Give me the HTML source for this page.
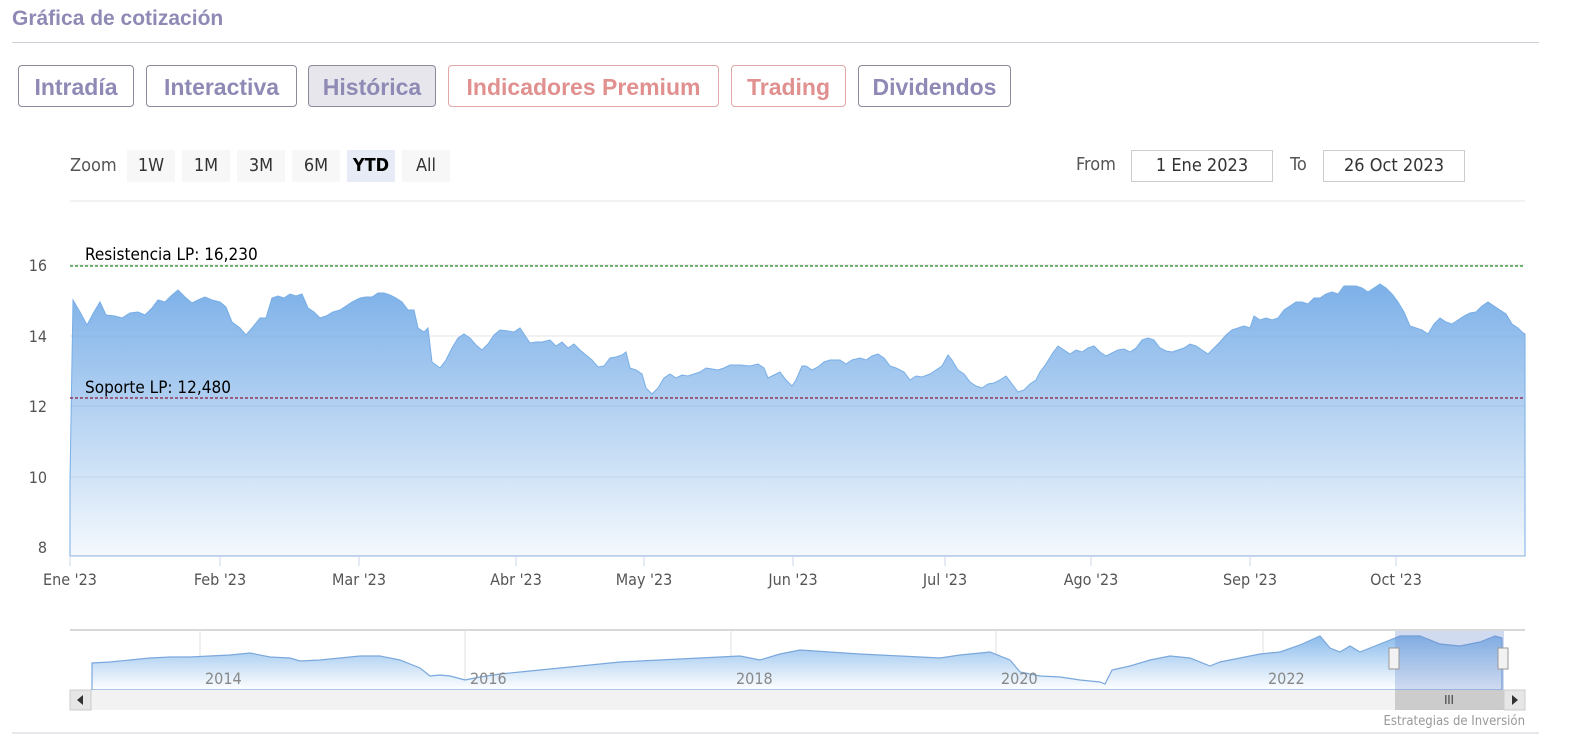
<!DOCTYPE html>
<html style="overflow:hidden"><head><meta charset="utf-8"><style>
html,body{margin:0;overflow:hidden}
body{width:1576px;height:753px;background:#fff;position:relative;font-family:"Liberation Sans",sans-serif}
.t{position:absolute;left:12px;top:7px;font-size:21px;font-weight:bold;color:#8e8ab5}
.hr{position:absolute;left:12px;width:1527px;top:42px;height:1px;background:#cfcfd8}
.b{position:absolute;top:65px;height:42px;box-sizing:border-box;border:1px solid #8a8a9a;border-radius:4px;font-size:23px;font-weight:bold;color:#8e8ab5;line-height:42px;text-align:center}
.r{color:#e0908e;border-color:#e0a8a6}
.z{position:absolute;top:150px;height:32px;line-height:32px;font-size:18px;color:#333;text-align:center;background:#f7f7f7;font-family:"DejaVu Sans Condensed","Liberation Sans",sans-serif}
.in{position:absolute;top:150px;height:32px;box-sizing:border-box;border:1px solid #ccc;font-size:18px;line-height:30px;text-align:center;color:#333;font-family:"DejaVu Sans Condensed",sans-serif}
.l{position:absolute;font-size:18px;color:#555;font-family:"DejaVu Sans Condensed",sans-serif}
</style></head><body>
<div class="t">Gráfica de cotización</div>
<div class="hr"></div>
<div class="b" style="left:18px;width:116px">Intradía</div>
<div class="b" style="left:146px;width:151px">Interactiva</div>
<div class="b" style="left:308px;width:128px;background:#e6e6ec">Histórica</div>
<div class="b r" style="left:448px;width:271px">Indicadores Premium</div>
<div class="b r" style="left:731px;width:115px">Trading</div>
<div class="b" style="left:858px;width:153px">Dividendos</div>
<div class="l" style="left:70px;top:155px">Zoom</div>
<div class="z" style="left:127px;width:48px">1W</div>
<div class="z" style="left:182px;width:48px">1M</div>
<div class="z" style="left:237px;width:48px">3M</div>
<div class="z" style="left:292px;width:48px">6M</div>
<div class="z" style="left:347px;width:48px;background:#e6ebf5;font-weight:bold;color:#000">YTD</div>
<div class="z" style="left:402px;width:48px">All</div>
<div class="l" style="left:1076px;top:154px">From</div>
<div class="in" style="left:1131px;width:142px">1 Ene 2023</div>
<div class="l" style="left:1290px;top:154px">To</div>
<div class="in" style="left:1323px;width:142px">26 Oct 2023</div>
<svg width="1576" height="753" style="position:absolute;left:0;top:0" font-family="DejaVu Sans Condensed,Liberation Sans,sans-serif">
<defs>
<linearGradient id="g" x1="0" y1="0" x2="0" y2="1"><stop offset="0" stop-color="#7cb0e8"/><stop offset="1" stop-color="#7cb0e8" stop-opacity="0.08"/></linearGradient>
<linearGradient id="g2" x1="0" y1="0" x2="0" y2="1"><stop offset="0" stop-color="#8cbcec"/><stop offset="1" stop-color="#fff"/></linearGradient>
</defs>
<line x1="70" y1="201" x2="1525" y2="201" stroke="#e6e6e6"/>
<g stroke="#e6e6e6"><line x1="70" y1="336" x2="1525" y2="336"/><line x1="70" y1="406" x2="1525" y2="406"/><line x1="70" y1="477" x2="1525" y2="477"/><line x1="70" y1="265" x2="1525" y2="265"/></g>
<g font-size="16" fill="#555" text-anchor="end"><text x="47" y="271">16</text><text x="47" y="342">14</text><text x="47" y="412">12</text><text x="47" y="483">10</text><text x="47" y="553">8</text></g>
<polygon fill="url(#g)" stroke="#78aee6" stroke-width="1" points="70,556 70,480 73,300 80,312 87,325 94,312 100,302 106,315 115,316 122,318 130,313 138,312 145,315 152,308 158,300 165,302 172,295 178,290 185,297 192,303 198,300 205,297 212,300 220,302 226,307 232,322 240,328 246,335 252,328 260,318 266,318 272,298 278,296 284,298 290,294 296,296 302,294 308,308 314,312 320,318 326,316 333,312 340,310 346,306 352,302 360,298 366,297 372,297 378,293 384,293 390,295 396,298 402,302 408,310 414,310 418,328 424,332 428,328 432,362 440,368 446,360 452,348 458,338 464,334 470,338 476,345 482,350 488,344 494,335 500,330 508,331 514,332 520,328 524,334 530,343 536,342 542,342 550,340 556,346 562,342 568,348 574,344 580,350 586,355 592,360 598,367 604,366 610,358 616,357 622,355 626,352 630,368 636,370 642,374 646,388 652,394 658,388 664,378 670,374 676,378 682,375 688,376 694,374 700,372 706,368 712,369 718,370 724,368 730,365 740,365 750,366 758,364 764,368 768,378 774,375 780,372 786,380 792,386 796,380 802,366 806,366 812,370 818,367 824,362 830,360 840,360 846,364 852,360 860,358 866,360 872,356 878,354 884,358 890,366 896,368 904,372 910,380 916,376 922,377 930,374 936,370 942,366 948,355 952,360 958,370 964,374 970,382 976,386 982,388 988,384 994,383 1000,380 1006,376 1012,384 1018,392 1024,390 1030,384 1036,380 1040,372 1046,364 1052,354 1058,346 1064,350 1070,354 1076,350 1082,352 1088,348 1094,346 1100,352 1106,356 1112,353 1118,350 1124,349 1130,352 1136,348 1142,340 1148,338 1154,340 1160,348 1166,351 1172,352 1178,350 1184,348 1190,344 1196,346 1202,350 1208,354 1214,348 1220,342 1226,335 1232,330 1238,328 1244,326 1250,328 1254,316 1260,320 1266,318 1272,320 1278,318 1284,310 1290,306 1296,302 1302,302 1308,304 1314,298 1320,298 1326,294 1332,292 1338,294 1344,286 1350,286 1356,286 1362,288 1368,292 1374,288 1380,284 1386,288 1392,294 1398,302 1404,312 1410,326 1416,328 1422,330 1428,334 1434,324 1440,318 1446,322 1452,324 1458,320 1464,316 1470,313 1476,312 1482,306 1488,302 1494,306 1500,310 1506,314 1512,324 1518,328 1522,332 1525,334 1525,556"/>
<line x1="70" y1="266" x2="1525" y2="266" stroke="#228b22" stroke-dasharray="3,2" stroke-width="1.3"/>
<line x1="70" y1="398" x2="1525" y2="398" stroke="#8b1a3a" stroke-dasharray="3,2" stroke-width="1.3"/>
<text x="85" y="260" font-size="17" fill="#000">Resistencia LP: 16,230</text>
<text x="85" y="393" font-size="17" fill="#000">Soporte LP: 12,480</text>
<line x1="70" y1="556.5" x2="1525" y2="556.5" stroke="#ccd6eb"/>
<g stroke="#ccd6eb"><line x1="70" y1="556" x2="70" y2="566"/><line x1="220" y1="556" x2="220" y2="566"/><line x1="359" y1="556" x2="359" y2="566"/><line x1="516" y1="556" x2="516" y2="566"/><line x1="644" y1="556" x2="644" y2="566"/><line x1="793" y1="556" x2="793" y2="566"/><line x1="945" y1="556" x2="945" y2="566"/><line x1="1091" y1="556" x2="1091" y2="566"/><line x1="1250" y1="556" x2="1250" y2="566"/><line x1="1396" y1="556" x2="1396" y2="566"/></g>
<g font-size="16" fill="#555" text-anchor="middle"><text x="70" y="585">Ene '23</text><text x="220" y="585">Feb '23</text><text x="359" y="585">Mar '23</text><text x="516" y="585">Abr '23</text><text x="644" y="585">May '23</text><text x="793" y="585">Jun '23</text><text x="945" y="585">Jul '23</text><text x="1091" y="585">Ago '23</text><text x="1250" y="585">Sep '23</text><text x="1396" y="585">Oct '23</text></g>
<line x1="70" y1="630" x2="1525" y2="630" stroke="#ccc" stroke-width="1.5"/>
<g stroke="#e0e0e0"><line x1="200" y1="630" x2="200" y2="690"/><line x1="465" y1="630" x2="465" y2="690"/><line x1="731" y1="630" x2="731" y2="690"/><line x1="996" y1="630" x2="996" y2="690"/><line x1="1263" y1="630" x2="1263" y2="690"/></g>
<polygon fill="url(#g2)" stroke="#7aa8dc" stroke-width="1.2" points="92,690 92,663 110,662 130,660 150,658 170,657 190,657 210,656 230,655 250,653 270,657 290,658 300,661 320,660 340,658 360,656 380,656 400,660 420,668 430,676 440,675 450,676 465,680 480,677 500,674 520,672 540,670 560,668 580,666 600,664 620,662 660,660 700,658 740,656 760,660 780,654 800,650 830,652 860,654 900,656 940,658 960,655 990,652 1010,660 1020,672 1040,676 1060,677 1080,680 1100,682 1105,684 1112,670 1130,666 1150,660 1170,656 1190,658 1210,666 1220,662 1240,658 1260,654 1280,652 1300,645 1320,636 1330,648 1340,652 1350,646 1360,652 1370,648 1390,640 1400,636 1420,636 1440,644 1460,646 1480,642 1495,636 1502,638 1502,690"/>
<g font-size="16" fill="#888"><text x="205" y="684">2014</text><text x="470" y="684">2016</text><text x="736" y="684">2018</text><text x="1001" y="684">2020</text><text x="1268" y="684">2022</text></g>
<rect x="1395" y="631" width="109" height="59" fill="#6688cc" fill-opacity="0.3"/>
<rect x="1389" y="648" width="10" height="21" fill="#f2f2f2" stroke="#999"/>
<rect x="1498" y="648" width="10" height="21" fill="#f2f2f2" stroke="#999"/>
<rect x="70" y="690" width="1455" height="20" fill="#f2f2f2"/>
<rect x="70" y="690" width="21" height="20" fill="#e6e6e6" stroke="#ccc"/>
<path d="M83,695 L77,700 L83,705Z" fill="#333"/>
<rect x="1395" y="690" width="109" height="20" fill="#cccccc"/>
<text x="1449" y="704" font-size="12" fill="#333" text-anchor="middle">III</text>
<rect x="1504" y="690" width="21" height="20" fill="#e6e6e6" stroke="#ccc"/>
<path d="M1512,695 L1518,700 L1512,705Z" fill="#333"/>
<text x="1525" y="725" font-size="13" fill="#999" text-anchor="end">Estrategias de Inversión</text>
<line x1="12" y1="733" x2="1539" y2="733" stroke="#cfcfd8"/>
</svg>
</body></html>
